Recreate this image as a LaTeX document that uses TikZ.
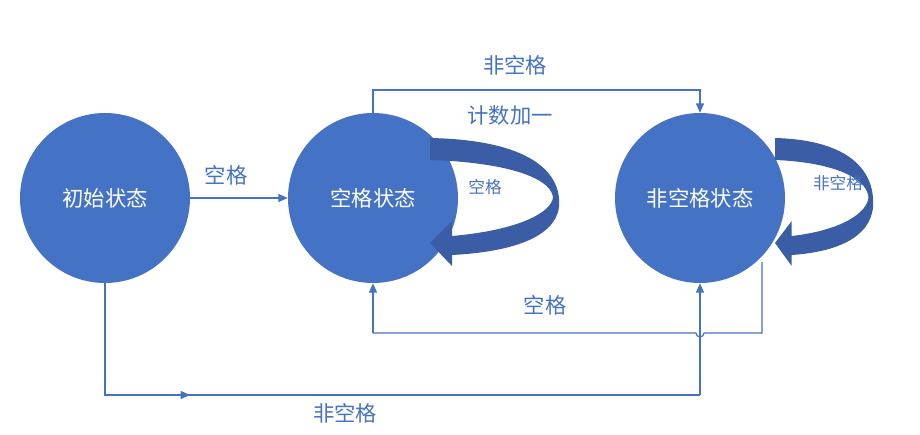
\documentclass[tikz,border=0pt]{standalone}
\usepackage{fontspec}
\setmainfont{Noto Sans CJK SC}
\usetikzlibrary{arrows.meta}
\definecolor{cb}{HTML}{4472C4}
\definecolor{cd}{HTML}{3A5DA5}
\newcommand\myloopfill{\fill[cd] (430,138) .. controls (530,140) and (562,172) .. (559,207) .. controls (555,238) and (510,252) .. (452,255)
 -- (452,266) -- (430,243) -- (452,221) -- (452,236) .. controls (520,230) and (552,212) .. (553,197)
 .. controls (550,176) and (500,162) .. (430,160) -- cycle;}
\begin{document}
\begin{tikzpicture}[x=0.75pt,y=-0.75pt,
  st/.style={circle,fill=cb,minimum size=127.5pt,inner sep=0pt,text=white,font=\fontsize{16}{19}\selectfont},
  lb/.style={text=cb,font=\fontsize{16}{19}\selectfont},
  sl/.style={text=cb,font=\fontsize{12.5}{14}\selectfont},
  ln/.style={draw=cb,line width=0.9pt},
  ar/.style={ln,-{Triangle[length=7pt,width=6pt]}}]
\useasboundingbox (0,0) rectangle (920,435);
\node[st] (a) at (105,198) {初始状态};
\node[st] (b) at (373,198) {空格状态};
\node[st] (c) at (700,198) {非空格状态};
\myloopfill
\begin{scope}[xshift=775*0.75pt,xscale=0.76,xshift=-430*0.75pt]
\myloopfill
\end{scope}
\draw[ar] (a) -- (b);
\node[lb] (t1) at (226,175) {空格};
\coordinate (p1) at (373,90); \coordinate (p2) at (700,90);
\draw[ar] (b.north) -- (p1) -- (p2) -- (c.north);
\node[lb] (t2) at (515,65) {非空格};
\node[lb] (t3) at (510,115) {计数加一};
\node[sl] (t4) at (485,187) {空格};
\node[sl] (t5) at (838,183) {非空格};
\coordinate (q1) at (762,262); \coordinate (q2) at (762,333); \coordinate (q3) at (373,333);
\draw[ln] (q1) -- (q2) -- (704,333) arc (0:180:4) -- (q3);
\draw[ar] (q3) -- (b.south);
\node[lb] (t6) at (545,305) {空格};
\coordinate (r1) at (105,395); \coordinate (r2) at (700,395);
\draw[ln] (a.south) -- (r1) -- (r2);
\draw[ar] (r2) -- (c.south);
\draw[ar] (r1) -- (190,395);
\node[lb] (t7) at (345,413) {非空格};
\end{tikzpicture}
\end{document}
